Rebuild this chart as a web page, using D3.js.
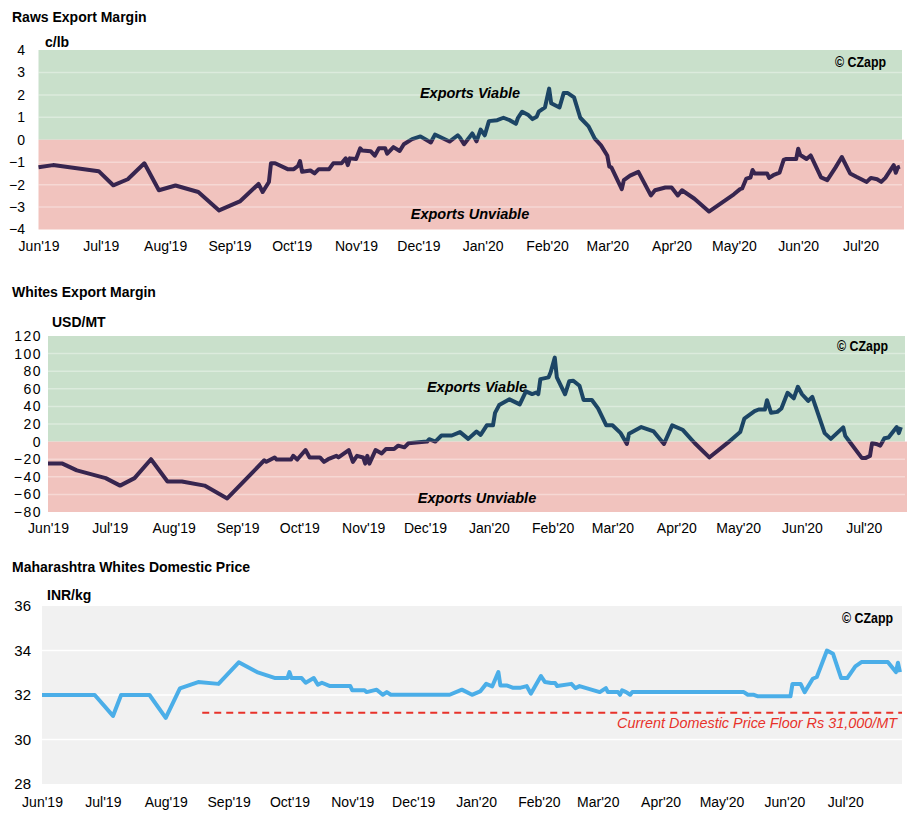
<!DOCTYPE html>
<html><head><meta charset="utf-8">
<script src="https://cdn.jsdelivr.net/npm/d3@7"></script>
<style>
body{margin:0;background:#fff;}
svg{display:block;font-family:"Liberation Sans",Arial,Helvetica,sans-serif;}
</style>
</head><body>
<svg id="chart" width="914" height="820"></svg>
<script>
// ---------- DATA ----------
const monthTicks = ["2019-06-01","2019-07-01","2019-08-01","2019-09-01","2019-10-01","2019-11-01","2019-12-01",
  "2020-01-01","2020-02-01","2020-03-01","2020-04-01","2020-05-01","2020-06-01","2020-07-01"];
const monthLabels = ["Jun'19","Jul'19","Aug'19","Sep'19","Oct'19","Nov'19","Dec'19",
  "Jan'20","Feb'20","Mar'20","Apr'20","May'20","Jun'20","Jul'20"];

const rawsTicks = [4,3,2,1,0,-1,-2,-3,-4];
const whitesTicks = [120,100,80,60,40,20,0,-20,-40,-60,-80];
const domTicks = [36,34,32,30,28];

const rawsDates = ["2019-06-01","2019-06-08","2019-06-30","2019-07-07","2019-07-14","2019-07-22","2019-07-29","2019-08-06",
 "2019-08-17","2019-08-27","2019-09-06","2019-09-15","2019-09-17","2019-09-20","2019-09-21","2019-09-23","2019-09-29",
 "2019-10-02","2019-10-04","2019-10-05","2019-10-06","2019-10-10","2019-10-12","2019-10-14","2019-10-19","2019-10-21",
 "2019-10-25","2019-10-27","2019-10-28","2019-10-29","2019-11-01","2019-11-03","2019-11-04","2019-11-08","2019-11-10",
 "2019-11-12","2019-11-15","2019-11-16","2019-11-19","2019-11-22","2019-11-24","2019-11-28","2019-12-02","2019-12-07",
 "2019-12-09","2019-12-12","2019-12-16","2019-12-20","2019-12-21","2019-12-23","2019-12-27","2019-12-29","2019-12-31",
 "2020-01-02","2020-01-04","2020-01-08","2020-01-11","2020-01-14","2020-01-17","2020-01-18","2020-01-20","2020-01-23",
 "2020-01-25","2020-01-27","2020-01-28","2020-01-31","2020-02-02","2020-02-03","2020-02-07","2020-02-09","2020-02-11",
 "2020-02-14","2020-02-17","2020-02-21","2020-02-24","2020-02-27","2020-03-01","2020-03-02","2020-03-03","2020-03-08",
 "2020-03-09","2020-03-12","2020-03-16","2020-03-22","2020-03-24","2020-03-29","2020-04-01","2020-04-04","2020-04-06",
 "2020-04-12","2020-04-19","2020-05-01","2020-05-04","2020-05-05","2020-05-07","2020-05-09","2020-05-10","2020-05-11",
 "2020-05-17","2020-05-18","2020-05-20","2020-05-23","2020-05-25","2020-05-26","2020-05-31","2020-06-01","2020-06-02",
 "2020-06-05","2020-06-07","2020-06-12","2020-06-15","2020-06-19","2020-06-22","2020-06-26","2020-06-29","2020-07-04",
 "2020-07-06","2020-07-09","2020-07-11","2020-07-13","2020-07-17","2020-07-18","2020-07-19","2020-07-20"];
const rawsValues = [-1.23,-1.13,-1.40,-2.03,-1.76,-1.05,-2.25,-2.04,
 -2.33,-3.15,-2.75,-1.97,-2.33,-1.88,-1.05,-1.05,-1.31,
 -1.31,-1.17,-0.95,-1.43,-1.37,-1.50,-1.31,-1.31,-1.05,
 -1.05,-0.83,-1.13,-0.83,-0.86,-0.38,-0.48,-0.51,-0.71,
 -0.38,-0.38,-0.62,-0.33,-0.50,-0.20,0.03,0.15,-0.12,
 0.23,0.10,-0.08,0.20,0.10,-0.20,0.28,-0.07,0.45,
 0.20,0.83,0.87,0.98,0.87,0.71,0.98,1.25,1.10,
 0.92,1.02,1.25,1.44,2.28,1.63,1.44,2.08,2.08,
 1.89,0.98,0.60,0.05,-0.25,-0.70,-1.20,-1.23,-2.20,
 -1.80,-1.60,-1.43,-2.48,-2.25,-2.13,-2.13,-2.48,-2.25,
 -2.63,-3.20,-2.43,-2.20,-2.17,-1.73,-1.68,-1.35,-1.50,
 -1.50,-1.70,-1.58,-1.47,-0.90,-0.86,-0.86,-0.40,-0.68,
 -0.86,-0.70,-1.68,-1.80,-1.23,-0.77,-1.50,-1.65,-1.88,
 -1.70,-1.76,-1.88,-1.70,-1.13,-1.47,-1.23,-1.20];

const whitesDates = ["2019-06-01","2019-06-08","2019-06-15","2019-06-29","2019-07-06","2019-07-13","2019-07-21","2019-07-29",
 "2019-08-05","2019-08-16","2019-08-27","2019-09-14","2019-09-15","2019-09-19","2019-09-20","2019-09-27","2019-09-28",
 "2019-09-30","2019-10-04","2019-10-06","2019-10-11","2019-10-13","2019-10-15","2019-10-19","2019-10-20","2019-10-25",
 "2019-10-27","2019-10-29","2019-11-01","2019-11-02","2019-11-03","2019-11-04","2019-11-07","2019-11-10","2019-11-12",
 "2019-11-16","2019-11-18","2019-11-21","2019-11-23","2019-11-28","2019-12-02","2019-12-03","2019-12-06","2019-12-09",
 "2019-12-14","2019-12-18","2019-12-22","2019-12-26","2019-12-28","2019-12-31","2020-01-03","2020-01-04","2020-01-06",
 "2020-01-11","2020-01-16","2020-01-19","2020-01-22","2020-01-24","2020-01-25","2020-01-26","2020-01-30","2020-01-31",
 "2020-02-02","2020-02-03","2020-02-07","2020-02-09","2020-02-11","2020-02-14","2020-02-16","2020-02-20","2020-02-23",
 "2020-02-27","2020-03-01","2020-03-05","2020-03-08","2020-03-09","2020-03-15","2020-03-21","2020-03-26","2020-03-30",
 "2020-04-04","2020-04-10","2020-04-17","2020-04-26","2020-05-02","2020-05-04","2020-05-09","2020-05-11","2020-05-14",
 "2020-05-15","2020-05-17","2020-05-20","2020-05-22","2020-05-25","2020-05-28","2020-05-30","2020-06-01","2020-06-04",
 "2020-06-06","2020-06-12","2020-06-15","2020-06-21","2020-06-22","2020-06-30","2020-07-02","2020-07-04","2020-07-05",
 "2020-07-07","2020-07-09","2020-07-11","2020-07-13","2020-07-17","2020-07-18","2020-07-19"];
const whitesValues = [-25,-25,-32.7,-41.5,-50,-41.5,-20,-45.4,
 -45.4,-50,-64.6,-21.2,-23,-18,-20.4,-20.4,-16.2,
 -20.4,-9.6,-18,-18,-23,-20,-16.2,-18,-9.6,
 -23,-16.2,-18,-25,-16.2,-25,-9.6,-13.5,-8.5,
 -8.5,-4.6,-6.5,-1.9,-0.8,0,2.7,0,6.9,
 6.9,10.8,3.1,11.5,7.7,18.5,18.5,32.7,41.5,
 48,42.3,57,54,55.8,54,71,73,78.8,
 95.4,73,53.8,68.5,69.2,63.5,47.3,47.3,37.7,
 18.5,18.5,9.6,-2.7,8.8,16.5,11.5,-2.7,18.5,
 13.5,-1.9,-18,-1.2,10.8,26.2,34.6,36.5,36.5,
 47,32.7,33.8,37.7,55.4,49.2,62.3,53.8,46.2,
 50.8,9.6,3.1,16.2,6.5,-18.5,-18.5,-16.2,-1.9,
 -2.7,-4.6,3.8,4.6,16.5,9.6,16.5];

const domDates = ["2019-06-01","2019-06-27","2019-07-06","2019-07-10","2019-07-24","2019-08-01","2019-08-08","2019-08-17",
 "2019-08-27","2019-09-06","2019-09-15","2019-09-24","2019-09-30","2019-10-01","2019-10-02","2019-10-07","2019-10-09",
 "2019-10-13","2019-10-15","2019-10-17","2019-10-21","2019-10-31","2019-11-01","2019-11-07","2019-11-08","2019-11-13",
 "2019-11-16","2019-11-18","2019-11-20","2019-12-19","2019-12-25","2019-12-30","2020-01-03","2020-01-06","2020-01-09",
 "2020-01-12","2020-01-13","2020-01-16","2020-01-19","2020-01-23","2020-01-26","2020-01-28","2020-02-02","2020-02-04",
 "2020-02-07","2020-02-09","2020-02-10","2020-02-17","2020-02-19","2020-02-21","2020-03-02","2020-03-05","2020-03-06",
 "2020-03-11","2020-03-12","2020-03-13","2020-03-15","2020-03-17","2020-03-18","2020-05-12","2020-05-14","2020-05-17",
 "2020-05-19","2020-06-04","2020-06-05","2020-06-09","2020-06-11","2020-06-15","2020-06-17","2020-06-22","2020-06-25",
 "2020-06-29","2020-07-02","2020-07-06","2020-07-09","2020-07-22","2020-07-26","2020-07-27","2020-07-28"];
const domValues = [32,32,31.06,32,32,30.97,32.3,32.58,
 32.5,33.47,33.03,32.76,32.76,33.03,32.76,32.76,32.55,
 32.76,32.46,32.55,32.4,32.4,32.21,32.21,32.13,32.24,
 32.01,32.13,32.01,32.01,32.24,32.01,32.16,32.5,32.39,
 33.03,32.43,32.43,32.33,32.33,32.4,32.06,32.85,32.58,
 32.54,32.54,32.4,32.5,32.31,32.4,32.13,32.31,32.13,
 32.13,32.01,32.21,32.13,32.01,32.13,32.13,32.01,32.01,
 31.94,31.94,32.5,32.5,32.13,32.73,32.81,34.0,33.85,
 32.76,32.76,33.29,33.48,33.48,33.03,33.45,33.03];

const floorValue = 31.2;
const floorStart = "2019-08-19";
const floorLabel = "Current Domestic Price Floor Rs 31,000/MT";

// ---------- DRAW ----------
const parse = d3.timeParse("%Y-%m-%d");
const svg = d3.select("#chart");
const COL_POS = "#1c4565", COL_NEG = "#37254f";

function zip(dates, vals){ return dates.map((d,i)=>({date:parse(d), v:vals[i]})); }

function drawChart(o){
  const g = svg.append("g");
  const x = d3.scaleTime().domain([parse(o.x0), parse(o.x1)]).range([o.left, o.right]);
  const y = d3.scaleLinear().domain([o.yMin, o.yMax]).range([o.bottom, o.top]);

  g.append("text").attr("x",12).attr("y",o.titleY).attr("font-size",14).attr("font-weight","bold")
    .attr("dominant-baseline","middle").text(o.title);
  g.append("text").attr("x",o.unitX).attr("y",o.unitY).attr("font-size",14).attr("font-weight","bold")
    .attr("dominant-baseline","middle").text(o.unit);

  if (o.zones){
    g.append("rect").attr("x",o.left).attr("y",y(o.yMax)).attr("width",o.right-o.left)
      .attr("height",y(0)-y(o.yMax)).attr("fill","#c9e0cb");
    g.append("rect").attr("x",o.left).attr("y",y(0)).attr("width",o.right-o.left+2)
      .attr("height",y(o.yMin)-y(0)).attr("fill","#f1c3be");
  } else {
    g.append("rect").attr("x",o.left).attr("y",o.top).attr("width",o.right-o.left)
      .attr("height",o.bottom-o.top).attr("fill","#f1f1f1");
  }
  // gridlines
  const gridVals = o.ticks.filter(t => t!==o.yMin && t!==o.yMax && (o.zones ? t!==0 : true));
  g.append("g").selectAll("line").data(gridVals)
    .join("line").attr("x1",o.left).attr("x2",o.right).attr("y1",d=>y(d)).attr("y2",d=>y(d))
    .attr("stroke","#ffffff").attr("stroke-opacity",o.zones?0.35:1).attr("stroke-width",1.5);

  // y axis labels
  const ya = g.append("g").attr("transform",`translate(${o.yLabelX},0)`)
    .call(d3.axisLeft(y).tickValues(o.ticks).tickSize(0).tickPadding(0).tickFormat(d3.format("d")));
  ya.select(".domain").remove();
  ya.selectAll("text").attr("font-size",o.yFont||14).attr("font-family","'Liberation Sans',Arial,sans-serif")
    .attr("fill","#000").attr("letter-spacing",o.yLetter||0);

  // x axis labels
  const xa = g.append("g").attr("transform",`translate(0,${o.xLabelY})`)
    .call(d3.axisBottom(x).tickValues(monthTicks.map(parse)).tickSize(0).tickPadding(0)
      .tickFormat((d,i)=>monthLabels[i]));
  xa.select(".domain").remove();
  xa.selectAll("text").attr("font-size",14).attr("font-family","'Liberation Sans',Arial,sans-serif")
    .attr("fill","#000").attr("dy","0.35em");

  // zone labels
  if (o.zones){
    g.append("text").attr("x",o.zoneX).attr("y",o.viableY).attr("text-anchor","middle")
      .attr("font-size",14.5).attr("font-weight","bold").attr("font-style","italic")
      .attr("dominant-baseline","middle").text("Exports Viable");
    g.append("text").attr("x",o.zoneX).attr("y",o.unviableY).attr("text-anchor","middle")
      .attr("font-size",14.5).attr("font-weight","bold").attr("font-style","italic")
      .attr("dominant-baseline","middle").text("Exports Unviable");
  }
  // copyright (condensed look)
  g.append("text").attr("x",o.czX-51).attr("y",o.czY)
    .attr("font-size",14).attr("font-weight","bold")
    .attr("textLength",51).attr("lengthAdjust","spacingAndGlyphs")
    .attr("dominant-baseline","middle").text("\u00A9 CZapp");

  // floor line
  if (o.floor){
    g.append("line").attr("x1",x(parse(floorStart))).attr("x2",o.right)
      .attr("y1",y(floorValue)).attr("y2",y(floorValue))
      .attr("stroke","#e8322a").attr("stroke-width",2).attr("stroke-dasharray","7,5");
    g.append("text").attr("x",o.right-5).attr("y",y(floorValue)+11).attr("text-anchor","end")
      .attr("font-size",14.4).attr("font-style","italic").attr("fill","#e8322a")
      .attr("dominant-baseline","middle").text(floorLabel);
  }

  // series
  const data = zip(o.dates, o.values);
  const line = d3.line().x(d=>x(d.date)).y(d=>y(d.v)).curve(d3.curveLinear);
  if (o.zones){
    const id = o.id;
    const defs = g.append("defs");
    defs.append("clipPath").attr("id",id+"pos").append("rect")
      .attr("x",0).attr("y",o.top-20).attr("width",914).attr("height",y(0)-o.top+20);
    defs.append("clipPath").attr("id",id+"neg").append("rect")
      .attr("x",0).attr("y",y(0)).attr("width",914).attr("height",o.bottom-y(0)+20);
    g.append("path").datum(data).attr("d",line).attr("fill","none").attr("stroke",COL_POS)
      .attr("stroke-width",4).attr("stroke-linejoin","round").attr("clip-path",`url(#${id}pos)`);
    g.append("path").datum(data).attr("d",line).attr("fill","none").attr("stroke",COL_NEG)
      .attr("stroke-width",4).attr("stroke-linejoin","round").attr("clip-path",`url(#${id}neg)`);
  } else {
    g.append("path").datum(data).attr("d",line).attr("fill","none").attr("stroke","#4baee8")
      .attr("stroke-width",4).attr("stroke-linejoin","round");
  }
}

drawChart({id:"raws", title:"Raws Export Margin", titleY:18, unit:"c/lb", unitX:45, unitY:43,
  left:38.5, right:902, top:50, bottom:229.5, yMin:-4, yMax:4, ticks:rawsTicks,
  x0:"2019-06-01", x1:"2020-07-21", yLabelX:25, xLabelY:246, zones:true,
  zoneX:470, viableY:94, unviableY:215, czX:886, czY:63,
  dates:rawsDates, values:rawsValues});

drawChart({id:"whites", title:"Whites Export Margin", titleY:293, unit:"USD/MT", unitX:52, unitY:323,
  left:48, right:905, top:336, bottom:512, yMin:-80, yMax:120, ticks:whitesTicks,
  x0:"2019-06-01", x1:"2020-07-21", yLabelX:42, xLabelY:528, zones:true, yFont:14, yLetter:1.5,
  zoneX:477, viableY:388, unviableY:499, czX:888, czY:347,
  dates:whitesDates, values:whitesValues});

drawChart({id:"dom", title:"Maharashtra Whites Domestic Price", titleY:568, unit:"INR/kg", unitX:47, unitY:596,
  left:42, right:902, top:606, bottom:784, yMin:28, yMax:36, ticks:domTicks,
  x0:"2019-06-01", x1:"2020-07-29", yLabelX:31, xLabelY:802, zones:false, yFont:15,
  czX:893, czY:619, floor:true,
  dates:domDates, values:domValues});
</script>
</body></html>
